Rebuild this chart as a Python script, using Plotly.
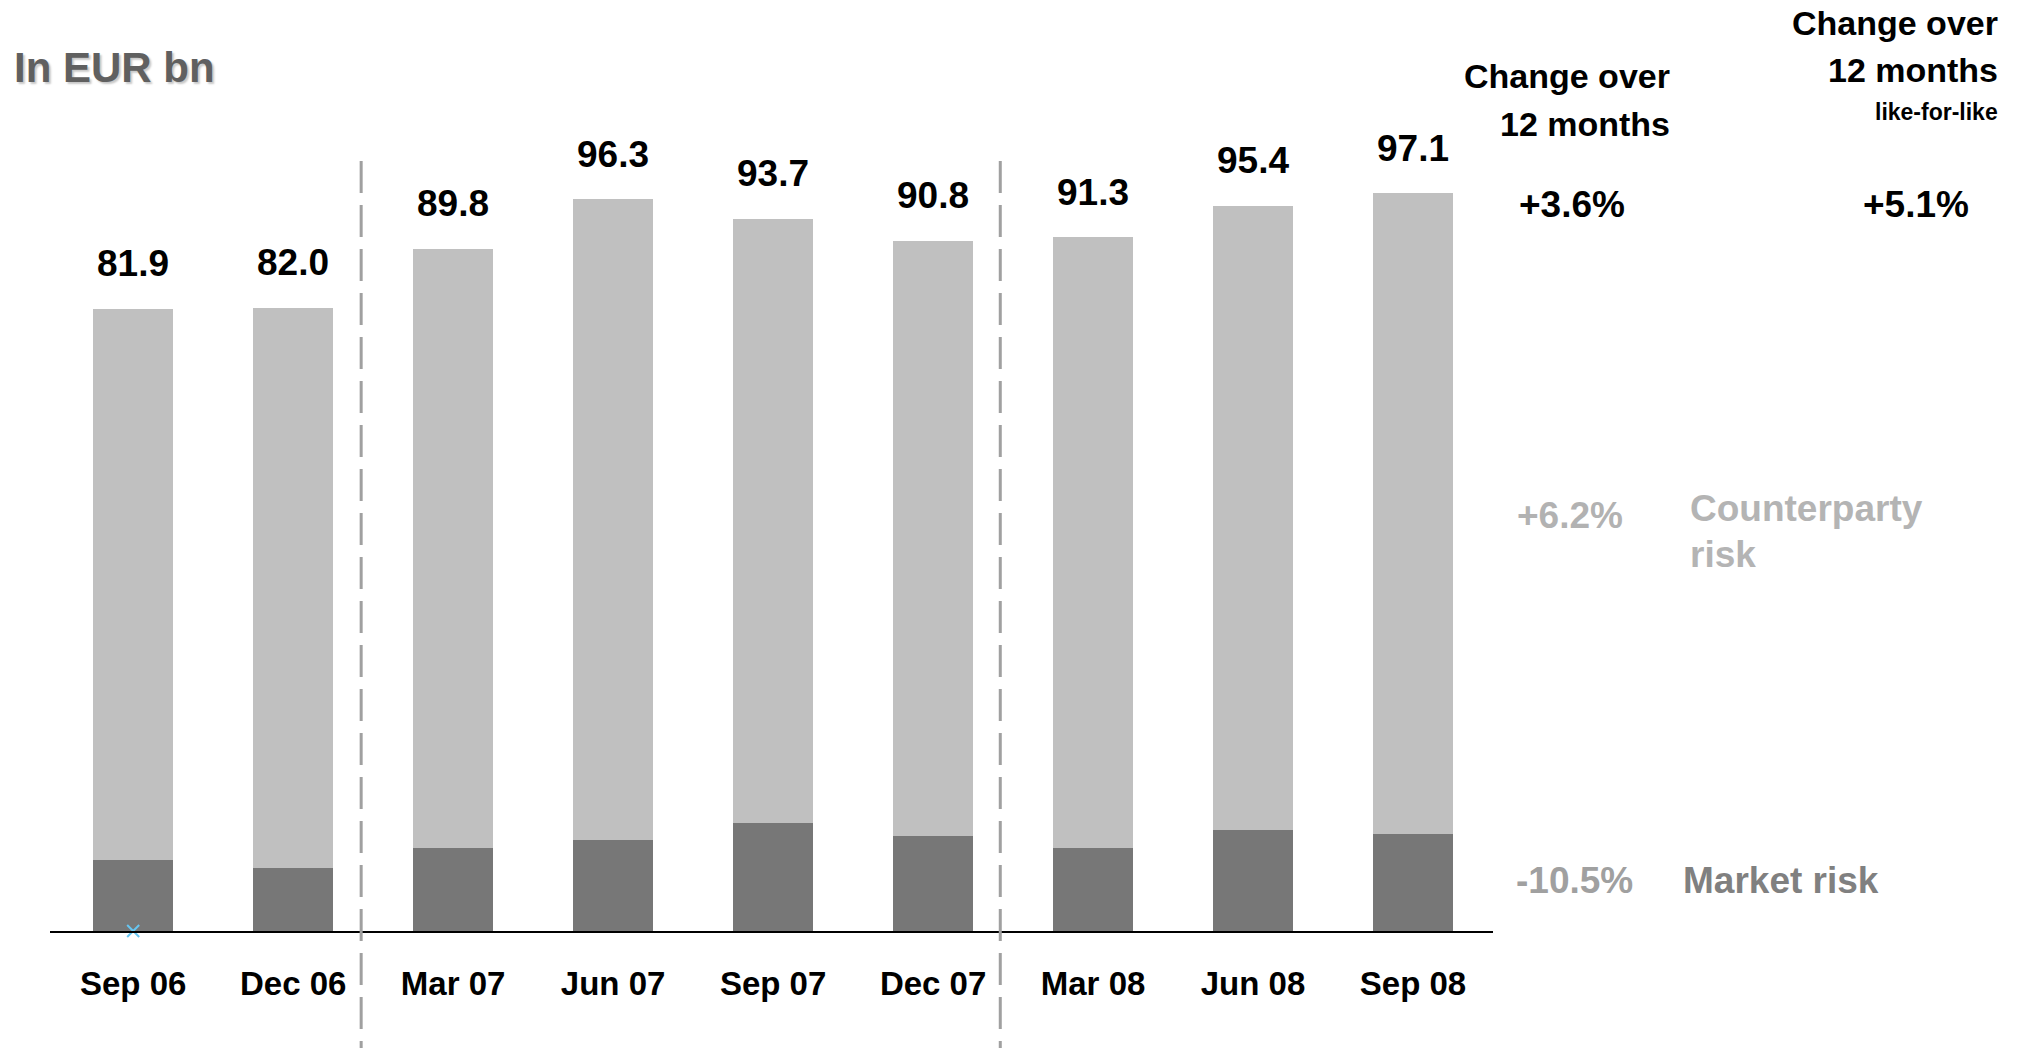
import plotly.graph_objects as go

# Risk-weighted assets by quarter, EUR bn
quarters = ["Sep 06", "Dec 06", "Mar 07", "Jun 07", "Sep 07",
            "Dec 07", "Mar 08", "Jun 08", "Sep 08"]
total_rwa = [81.9, 82.0, 89.8, 96.3, 93.7, 90.8, 91.3, 95.4, 97.1]
market_risk = [9.3, 8.3, 10.9, 12.0, 14.2, 12.5, 10.9, 13.3, 12.7]
counterparty_risk = [round(t - m, 1) for t, m in zip(total_rwa, market_risk)]

# Year separators sit between the December and March columns
year_breaks = [1.425, 5.42]

FONT = "Liberation Sans, Arial, Helvetica, sans-serif"
W, H = 2020, 1048
L, R, T, B = 50, 527, 100, 117
PLOT_W, PLOT_H = W - L - R, H - T - B


def px(x):
    return (x - L) / PLOT_W


def py(y):
    return (H - B - y) / PLOT_H


fig = go.Figure()
fig.add_trace(go.Bar(
    x=quarters, y=market_risk, name="Market risk",
    marker=dict(color="#777777", line=dict(width=0)), width=0.5,
))
fig.add_trace(go.Bar(
    x=quarters, y=counterparty_risk, name="Counterparty risk",
    marker=dict(color="#c0c0c0", line=dict(width=0)), width=0.5,
))
# small marker sitting on the baseline under the first column
fig.add_trace(go.Scatter(
    x=[quarters[0]], y=[0], mode="markers", cliponaxis=False,
    marker=dict(symbol="x-thin", size=12, line=dict(color="#66c6f2", width=2)),
))

annotations = []
for q, t in zip(quarters, total_rwa):
    annotations.append(dict(
        x=q, y=t, xref="x", yref="y", text=f"<b>{t:.1f}</b>",
        showarrow=False, yshift=45, yanchor="middle", xanchor="center",
        font=dict(family=FONT, size=37, color="#000000"),
    ))


def note(text, x, y, size, color, xanchor="center", shadow=None):
    f = dict(family=FONT, size=size, color=color)
    if shadow:
        f["shadow"] = shadow
    annotations.append(dict(
        x=px(x), y=py(y), xref="paper", yref="paper", text=text,
        showarrow=False, xanchor=xanchor, yanchor="middle", font=f,
    ))


note("<b>In EUR bn</b>", 12, 67, 42, "#606060", "left", "2px 2px 2px #c8c8c8")

note("<b>Change over</b>", 1672, 76, 34, "#000000", "right")
note("<b>12 months</b>", 1672, 124, 34, "#000000", "right")
note("<b>Change over</b>", 2000, 23, 34, "#000000", "right")
note("<b>12 months</b>", 2000, 70, 34, "#000000", "right")
note("<b>like-for-like</b>", 2000, 112, 23, "#000000", "right")

note("<b>+3.6%</b>", 1572, 204, 37, "#000000")
note("<b>+5.1%</b>", 1916, 204, 37, "#000000")

note("<b>+6.2%</b>", 1570, 515, 37, "#b2b2b2")
note("<b>Counterparty</b>", 1688, 509, 37, "#b4b4b4", "left")
note("<b>risk</b>", 1688, 554, 37, "#b4b4b4", "left")

note("<b>-10.5%</b>", 1574, 880, 37, "#a0a0a0")
note("<b>Market risk</b>", 1681, 880, 37, "#808080", "left")

shapes = []
for xb in year_breaks:
    shapes.append(dict(
        type="line", xref="x", yref="paper", x0=xb, x1=xb,
        y0=py(161), y1=py(H + 5),
        line=dict(color="#a0a0a0", width=3, dash="32px,12px"),
    ))
# soft grey line beneath the baseline
shapes.append(dict(
    type="line", xref="paper", yref="y", x0=0, x1=1,
    ysizemode="pixel", yanchor=0, y0=-3, y1=-3,
    line=dict(color="#d4d4d4", width=2),
))

fig.update_layout(
    width=W, height=H,
    margin=dict(l=L, r=R, t=T, b=B, pad=0),
    paper_bgcolor="white", plot_bgcolor="white",
    barmode="stack", bargap=0.5, showlegend=False,
    annotations=annotations, shapes=shapes,
    xaxis=dict(
        range=[-0.52, 8.5], showgrid=False, zeroline=False,
        showline=True, linecolor="#000000", linewidth=2,
        ticks="", ticklabelstandoff=22,
        tickfont=dict(family=FONT, size=33, color="#000000", weight=700),
    ),
    yaxis=dict(
        range=[0, PLOT_H / 7.6], visible=False, showgrid=False, zeroline=False,
    ),
)

fig.write_html("out.html")
